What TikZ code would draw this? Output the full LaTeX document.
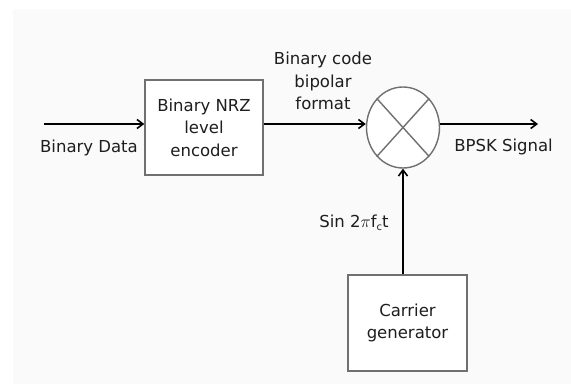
\documentclass[tikz,border=0pt]{standalone}
\usepackage{fontspec}
\setmainfont{DejaVu Sans}
\usetikzlibrary{arrows.meta,shapes.geometric}
\definecolor{edgegray}{HTML}{707070}
\definecolor{panel}{HTML}{FAFAFA}
\definecolor{ink}{HTML}{1E1E1E}
\tikzset{
  blockbox/.style={draw=edgegray, line width=1.4pt, fill=white, align=center,
    inner sep=0pt, font=\fontsize{16.5}{22.5}\selectfont, text=ink},
  mixer/.style={ellipse, draw=edgegray, line width=1.4pt, fill=white, inner sep=0pt},
  lbl/.style={align=center, inner sep=0pt, font=\fontsize{16.5}{22.5}\selectfont, text=ink},
  sig/.style={draw=black, line width=1.6pt, -{Straight Barb[length=6pt,width=9pt,line width=1.6pt]}}
}
\begin{document}
\begin{tikzpicture}[x=1pt,y=-1pt]
  % page and light panel
  \useasboundingbox (0,0) rectangle (571,384);
  \fill[white] (0,0) rectangle (571,384);
  \fill[panel] (13,9) rectangle (571,384);

  % blocks
  \node[blockbox, minimum width=118pt, minimum height=95pt] (enc) at (204,127.5)
    {Binary NRZ\\level\\encoder};
  \node[mixer, minimum width=73pt, minimum height=81pt] (mix) at (403,127.5) {};
  \draw[edgegray, line width=1.4pt] (mix.north east) -- (mix.south west)
                                    (mix.north west) -- (mix.south east);
  \node[blockbox, minimum width=119pt, minimum height=96pt] (car) at (407.5,323)
    {Carrier\\generator};

  % signal path
  \coordinate (in) at (44,124);
  \coordinate (out) at (538,124);
  \coordinate (encout) at (enc.east |- in);
  \coordinate (mixin) at (mix.west |- in);
  \coordinate (mixout) at (mix.east |- in);
  \coordinate (carup) at (mix.south |- car.north);
  \draw[sig] (in) -- (enc.west |- in);
  \draw[sig] (encout) -- (mixin);
  \draw[sig] (mixout) -- (out);
  \draw[sig] (carup) -- (mix.south);

  % labels
  \node[lbl] (ldata) at (89,148) {Binary Data};
  \node[lbl] (lcode) at (323,81) {Binary code\\bipolar\\format};
  \node[lbl] (lbpsk) at (503.5,147) {BPSK Signal};
  \node[lbl] (lsin) at (354,223) {Sin 2\(\pi\)f\raisebox{-0.35ex}{\fontsize{10}{10}\selectfont c}t};
\end{tikzpicture}
\end{document}
